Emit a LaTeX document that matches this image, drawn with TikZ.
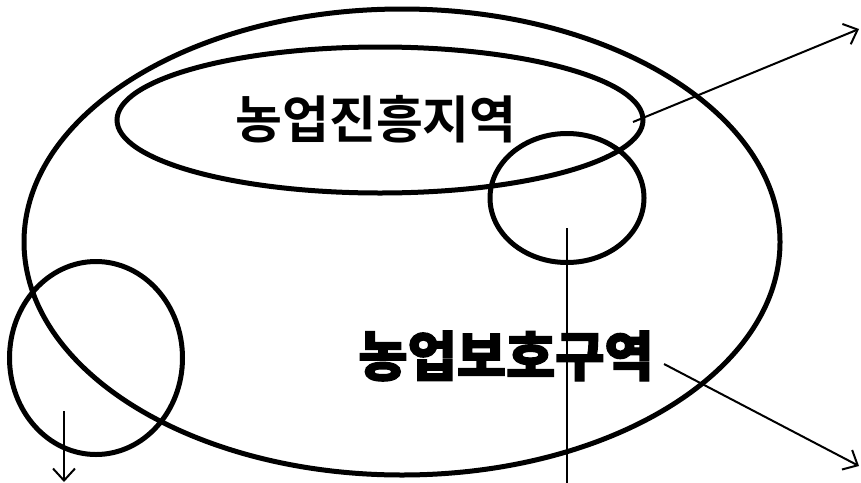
\documentclass[tikz,border=0pt]{standalone}
\usepackage{fontspec}
\newfontfamily\krbold{Noto Sans CJK KR Bold}
\newfontfamily\krblack{Noto Sans CJK KR Black}[FakeBold=2.5]
\usetikzlibrary{arrows.meta, shapes.geometric}

\begin{document}
\begin{tikzpicture}[
  x=1pt, y=-1pt,
  zone/.style={draw, ellipse, line width=5pt, inner sep=0pt},
  lbl/.style={inner sep=0pt, font=\krbold\fontsize{51}{55}\selectfont},
  lblheavy/.style={inner sep=0pt, font=\krblack\fontsize{53.5}{57}\selectfont},
  arr/.style={line width=2pt, -{Straight Barb[length=12pt, width=22pt, line width=2pt]}}
]
\useasboundingbox (0,0) rectangle (861,482);
\clip (0,0) rectangle (861,482);

% Zonele
\node[zone, minimum width=756pt, minimum height=466pt] (boho) at (402,242) {};
\node[zone, minimum width=526pt, minimum height=146pt] (jinheung) at (380,120) {};
\node[zone, minimum width=154pt, minimum height=129pt] (overlap) at (567,198) {};
\node[zone, minimum width=173pt, minimum height=193pt] (outer) at (96,358) {};

% Etichete
\node[lbl] (jinheungtxt) at (376,119) {농업진흥지역};
\node[lblheavy] (bohotxt) at (506,356) {농업보호구역};

% Capete libere ale sagetilor
\coordinate (jinheungend) at (859,29);
\coordinate (bohoend) at (859,466);
\coordinate (overlapend) at (567,498);
\coordinate (outerend) at (64,482);

\draw[arr] (633,122) -- (jinheungend);
\draw[arr] (664,364) -- (bohoend);
\draw[arr] (567,228) -- (overlapend);
\draw[arr] (64,411) -- (outerend);

\end{tikzpicture}
\end{document}
